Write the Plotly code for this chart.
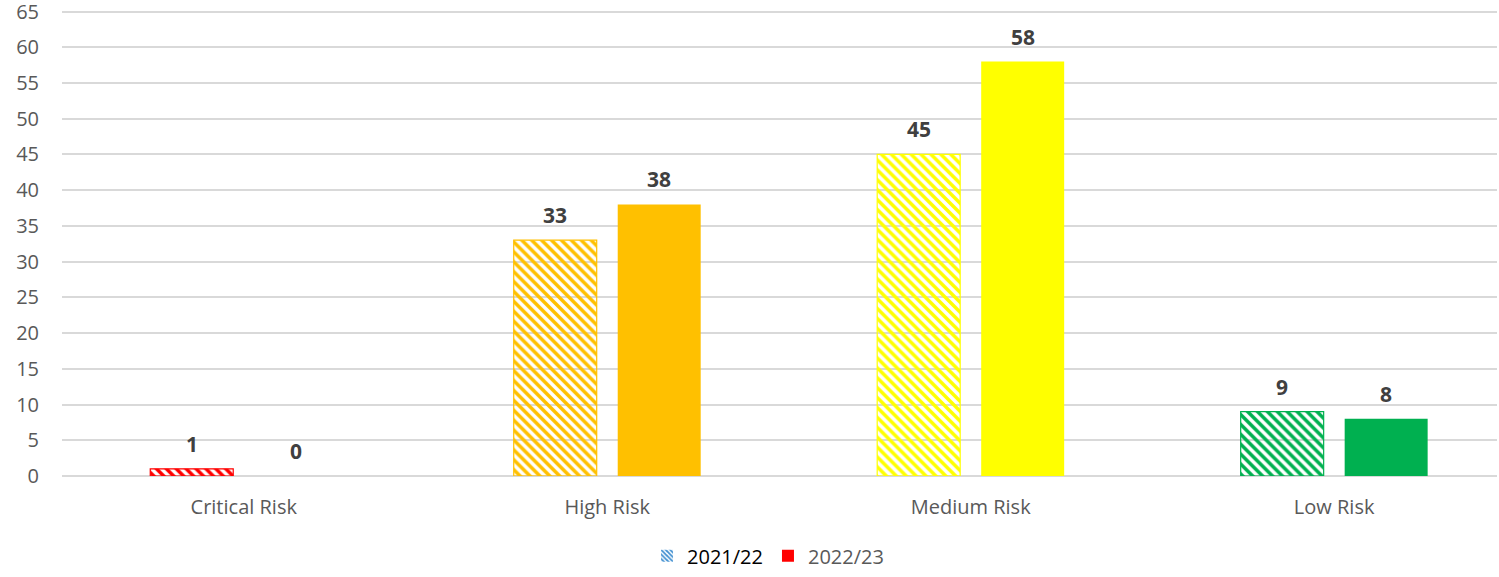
import plotly.graph_objects as go

categories = ["Critical Risk", "High Risk", "Medium Risk", "Low Risk"]
values_2122 = [1, 33, 45, 9]
values_2223 = [0, 38, 58, 8]
series_names = ["2021/22", "2022/23"]
bar_colors = ["#FF0000", "#FFC000", "#FFFF00", "#00B050"]
y_ticks = list(range(0, 70, 5))

BAR_W = 0.2283
OFF1 = -0.2572
OFF2 = 0.0289
FONT = "Open Sans"

fig = go.Figure()

fig.add_trace(go.Bar(
    x=categories, y=values_2122, name=series_names[0], showlegend=False,
    offset=OFF1, width=BAR_W,
    marker=dict(color=bar_colors, line=dict(color=bar_colors, width=1.2),
                pattern=dict(shape="\\", size=7, solidity=0.5, fillmode="replace")),
))
fig.add_trace(go.Bar(
    x=categories, y=values_2223, name=series_names[1], showlegend=False,
    offset=OFF2, width=BAR_W,
    marker=dict(color=bar_colors, line=dict(width=0)),
))

# legend entries
fig.add_trace(go.Bar(
    x=[None], y=[None], name="<span style='color:#000000'>" + series_names[0] + "</span>",
    marker=dict(color="#3E8ED0", line=dict(width=0),
                pattern=dict(shape="\\", size=4, solidity=0.55, fillmode="replace")),
))
fig.add_trace(go.Bar(
    x=[None], y=[None], name=series_names[1],
    marker=dict(color="#FF0000", line=dict(width=0)),
))

annotations = []
for i, (a, b) in enumerate(zip(values_2122, values_2223)):
    for off, v in ((OFF1, a), (OFF2, b)):
        annotations.append(dict(
            x=i + off + BAR_W / 2, y=v, xref="x", yref="y", text="<b>%d</b>" % v,
            showarrow=False, yshift=25, yanchor="middle",
            font=dict(family=FONT, size=21, color="#404040"),
        ))

fig.update_layout(
    width=1499, height=577,
    margin=dict(l=62, r=2, t=8, b=101),
    paper_bgcolor="white", plot_bgcolor="white",
    barmode="overlay",
    font=dict(family=FONT, size=20, color="#595959"),
    annotations=annotations,
    showlegend=True,
    legend=dict(orientation="h", x=0.492, xanchor="center", xref="paper",
                y=-0.212, yanchor="bottom", yref="paper",
                font=dict(family=FONT, size=20, color="#595959"),
                itemwidth=30, traceorder="normal"),
    xaxis=dict(type="category", range=[-0.5, 3.448], showgrid=False,
               showline=False, zeroline=False, ticks="", ticklabelstandoff=17,
               automargin=False,
               tickfont=dict(family=FONT, size=20, color="#595959")),
    yaxis=dict(range=[0, 65.5], tickvals=y_ticks, showgrid=True,
               gridcolor="#D9D9D9", gridwidth=2, zeroline=True,
               zerolinecolor="#D9D9D9", zerolinewidth=2, showline=False,
               ticks="", ticklabelstandoff=22, ticklabeloverflow="allow",
               automargin=False,
               tickfont=dict(family=FONT, size=20, color="#595959")),
)

fig.write_html("out.html")
